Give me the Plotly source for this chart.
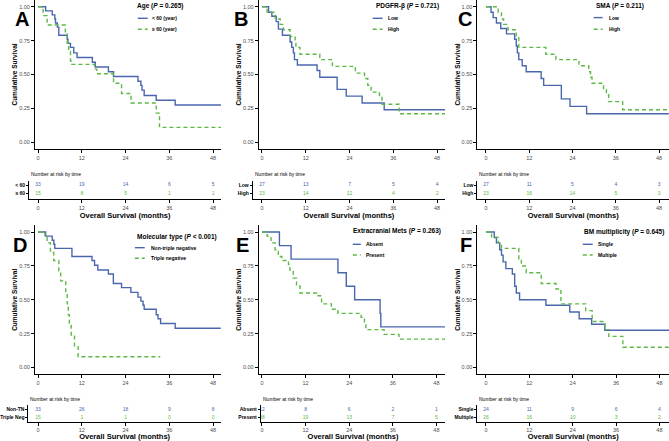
import plotly.graph_objects as go

W, H = 669, 441
FONT = "Liberation Sans, Arial, sans-serif"
BLUE = "#4a67ae"
GREEN = "#5cb945"
DASH = "4px,3px"

### data (months, cumulative survival)
risk_times = [0, 12, 24, 36, 48]
y_ticks = [0, 0.25, 0.5, 0.75, 1.0]

# A - Age
age_lt60_t = [0, 2.1, 3.9, 4.6, 4.8, 5.3, 5.7, 8.0, 8.2, 8.9, 9.8, 10.7, 14.9, 15.7, 19.3, 20.7, 27.4, 28.2, 28.5, 29.1, 32.4, 37.6, 50.2]
age_lt60_s = [1, 0.97, 0.94, 0.91, 0.88, 0.85, 0.79, 0.76, 0.73, 0.70, 0.66, 0.625, 0.59, 0.555, 0.52, 0.485, 0.45, 0.42, 0.385, 0.345, 0.31, 0.275, 0.275]
age_ge60_t = [0, 1.4, 2.5, 7.5, 8.0, 8.4, 8.9, 9.3, 15.5, 16.1, 20.7, 22.9, 25.5, 32.4, 33.3, 50.2]
age_ge60_s = [1, 0.935, 0.865, 0.80, 0.73, 0.67, 0.60, 0.575, 0.54, 0.505, 0.435, 0.36, 0.29, 0.215, 0.11, 0.11]
age_risk_lt60 = [33, 19, 14, 6, 5]
age_risk_ge60 = [15, 8, 5, 1, 1]

# B - PDGFR-beta
pdg_low_t = [0, 1.8, 2.7, 3.9, 4.5, 5.6, 7.7, 8.15, 8.6, 8.9, 9.7, 15.1, 15.85, 20.6, 23.1, 27.45, 33.5, 50.2]
pdg_low_s = [1, 0.96, 0.93, 0.89, 0.835, 0.79, 0.74, 0.70, 0.66, 0.61, 0.57, 0.53, 0.48, 0.39, 0.34, 0.29, 0.24, 0.24]
pdg_high_t = [0, 1.4, 3.6, 5.0, 5.9, 7.7, 9.1, 9.3, 10.4, 15.85, 19.3, 25.6, 28.1, 29.0, 29.9, 32.2, 32.9, 37.6, 50.2]
pdg_high_s = [1, 0.96, 0.91, 0.87, 0.83, 0.78, 0.74, 0.70, 0.65, 0.61, 0.56, 0.51, 0.47, 0.42, 0.37, 0.33, 0.28, 0.21, 0.21]
pdg_risk_low = [27, 13, 7, 5, 4]
pdg_risk_high = [23, 14, 12, 4, 2]

# C - SMA
sma_low_t = [0, 1.4, 2.0, 2.9, 4.1, 5.7, 7.95, 8.4, 8.7, 9.1, 10.05, 11.15, 15.3, 16.0, 20.9, 23.3, 27.9, 50.7]
sma_low_s = [1, 0.96, 0.92, 0.88, 0.84, 0.80, 0.76, 0.71, 0.66, 0.61, 0.565, 0.52, 0.47, 0.42, 0.32, 0.265, 0.21, 0.21]
sma_high_t = [0, 3.4, 4.3, 4.9, 6.1, 8.4, 9.1, 16.6, 19.4, 25.8, 28.5, 29.0, 29.4, 32.6, 33.4, 34.0, 37.9, 50.7]
sma_high_s = [1, 0.96, 0.91, 0.87, 0.83, 0.78, 0.70, 0.65, 0.61, 0.565, 0.52, 0.48, 0.435, 0.39, 0.35, 0.30, 0.24, 0.24]
sma_risk_low = [27, 11, 5, 4, 3]
sma_risk_high = [23, 16, 14, 5, 3]

# D - Molecular type
mol_ntn_t = [0, 2.1, 3.9, 4.35, 4.6, 9.3, 14.8, 15.5, 16.4, 19.3, 20.65, 22.9, 25.45, 27.4, 28.2, 28.8, 29.1, 32.4, 32.9, 33.6, 37.6, 50.2]
mol_ntn_s = [1, 0.97, 0.94, 0.91, 0.88, 0.82, 0.79, 0.755, 0.72, 0.69, 0.62, 0.59, 0.555, 0.52, 0.49, 0.46, 0.43, 0.39, 0.36, 0.325, 0.29, 0.29]
mol_tn_t = [0, 1.9, 2.5, 3.4, 4.3, 5.7, 6.2, 7.6, 8.0, 8.3, 8.6, 9.1, 10.0, 11.0, 33.5]
mol_tn_s = [1, 0.96, 0.92, 0.85, 0.79, 0.71, 0.64, 0.55, 0.47, 0.39, 0.31, 0.24, 0.16, 0.08, 0.08]
mol_risk_ntn = [33, 26, 18, 9, 8]
mol_risk_tn = [15, 1, 1, 0, 0]

# E - Extracranial mets
ext_abs_t = [0, 4.8, 8.0, 20.9, 23.2, 25.5, 32.5, 32.7, 50.4]
ext_abs_s = [1, 0.90, 0.80, 0.70, 0.60, 0.50, 0.40, 0.30, 0.30]
ext_pre_t = [0, 1.4, 2.5, 3.6, 4.5, 5.45, 7.3, 7.7, 8.6, 9.5, 10.45, 15.0, 16.4, 19.1, 20.9, 27.3, 28.2, 28.6, 33.6, 37.7, 50.4]
ext_pre_s = [1, 0.97, 0.92, 0.87, 0.82, 0.79, 0.76, 0.71, 0.66, 0.61, 0.55, 0.53, 0.47, 0.43, 0.40, 0.37, 0.33, 0.28, 0.245, 0.21, 0.21]
ext_risk_abs = [12, 8, 6, 2, 1]
ext_risk_pre = [38, 19, 13, 7, 5]

# F - BM multiplicity
bm_single_t = [0, 2.3, 2.9, 3.8, 4.3, 4.75, 5.5, 7.3, 7.95, 8.4, 9.3, 16.6, 23.2, 25.8, 29.25, 32.9, 50.7]
bm_single_s = [1, 0.96, 0.92, 0.87, 0.83, 0.78, 0.73, 0.69, 0.60, 0.55, 0.50, 0.46, 0.41, 0.36, 0.32, 0.275, 0.275]
bm_multi_t = [0, 1.55, 3.4, 4.3, 9.1, 9.8, 11.15, 15.3, 19.4, 20.75, 27.6, 29.4, 32.9, 34.0, 37.9, 50.7]
bm_multi_s = [1, 0.96, 0.92, 0.88, 0.80, 0.75, 0.70, 0.62, 0.58, 0.47, 0.42, 0.34, 0.28, 0.23, 0.15, 0.15]
bm_risk_single = [24, 11, 9, 6, 4]
bm_risk_multi = [26, 16, 10, 3, 2]

panels = [
    dict(letter="A", title="Age (<i>P</i> = 0.265)",
         names=["&lt; 60 (year)", "≥ 60 (year)"], rows=["&lt; 60", "≥ 60"],
         curves=[(age_lt60_t, age_lt60_s), (age_ge60_t, age_ge60_s)],
         risk=[age_risk_lt60, age_risk_ge60]),
    dict(letter="B", title="PDGFR-β (<i>P</i> = 0.721)",
         names=["Low", "High"], rows=["Low", "High"],
         curves=[(pdg_low_t, pdg_low_s), (pdg_high_t, pdg_high_s)],
         risk=[pdg_risk_low, pdg_risk_high]),
    dict(letter="C", title="SMA (<i>P</i> = 0.211)",
         names=["Low", "High"], rows=["Low", "High"],
         curves=[(sma_low_t, sma_low_s), (sma_high_t, sma_high_s)],
         risk=[sma_risk_low, sma_risk_high]),
    dict(letter="D", title="Molecular type (<i>P</i> &lt; 0.001)",
         names=["Non-triple negative", "Triple negative"], rows=["Non-TN", "Triple Neg"],
         curves=[(mol_ntn_t, mol_ntn_s), (mol_tn_t, mol_tn_s)],
         risk=[mol_risk_ntn, mol_risk_tn]),
    dict(letter="E", title="Extracranial Mets (<i>P</i> = 0.263)",
         names=["Absent", "Present"], rows=["Absent", "Present"],
         curves=[(ext_abs_t, ext_abs_s), (ext_pre_t, ext_pre_s)],
         risk=[ext_risk_abs, ext_risk_pre]),
    dict(letter="F", title="BM multiplicity (<i>P</i> = 0.645)",
         names=["Single", "Multiple"], rows=["Single", "Multiple"],
         curves=[(bm_single_t, bm_single_s), (bm_multi_t, bm_multi_s)],
         risk=[bm_risk_single, bm_risk_multi]),
]

### pixel geometry of each panel
# left/right: main plot x extent, x0/x48: pixel of month 0 and 48, rleft: risk table axis
# lt: legend title (x, y), ll: legend line x0-x1, lx: legend text x, ly: legend item ys, let: letter centre
geom = {
    "A": dict(left=29.3, right=217, x0=32.3, x48=209, rleft=23.3,
              lt=(130, 6), ll=(133, 143), lx=145.7, ly=(18.3, 29.3), let=(16, 18.5)),
    "B": dict(left=255, right=443, x0=258.3, x48=435, rleft=249,
              lt=(371.7, 6), ll=(370, 380), lx=383.3, ly=(18.3, 29.3), let=(237.5, 18.5)),
    "C": dict(left=475.7, right=669, x0=484.3, x48=659, rleft=475.7,
              lt=(593.3, 6), ll=(593, 602), lx=606.7, ly=(17.6, 29.3), let=(463, 18.5)),
    "D": dict(left=29.3, right=216.7, x0=32.3, x48=209, rleft=22.7,
              lt=(130, 236.7), ll=(130, 140), lx=144, ly=(247.7, 258.3), let=(14.5, 245)),
    "E": dict(left=255, right=443.3, x0=258.3, x48=434.3, rleft=257,
              lt=(348.3, 231), ll=(350, 358), lx=361.7, ly=(244.3, 255), let=(239, 245)),
    "F": dict(left=475.7, right=669, x0=484.3, x48=659.3, rleft=475.7,
              lt=(581, 231.7), ll=(582, 592), lx=595, ly=(244.3, 255), let=(464, 245)),
}
# rows: main plot top/bottom, risk table top/bottom, risk row 1/2 y, "number at risk" y
rowgeo = [
    dict(mt=0, mb=149, rt=180.7, rb=199.3, r1=185, r2=193.3, nar=174),
    dict(mt=225.3, mb=374.3, rt=404.5, rb=421.5, r1=409.5, r2=417.5, nar=398.5),
]


def px(x):
    return x / W


def py(y):
    return 1 - y / H


fig = go.Figure()
annotations = []
shapes = []
tick_font = dict(family=FONT, size=5.5, color="#4d4d4d")

for i, p in enumerate(panels):
    g = geom[p["letter"]]
    r = rowgeo[0 if i < 3 else 1]
    mid, rid = i + 1, i + 7
    mx, my = f"x{mid}", f"y{mid}"
    rx, ry = f"x{rid}", f"y{rid}"
    ppm = (g["x48"] - g["x0"]) / 48

    for (t, s), name, col, dash in zip(p["curves"], p["names"], [BLUE, GREEN], ["solid", DASH]):
        fig.add_trace(go.Scatter(x=t, y=s, name=name, mode="lines",
                                 line=dict(shape="hv", color=col, width=1.4, dash=dash),
                                 xaxis=mx, yaxis=my, showlegend=False))
    for k, (vals, col) in enumerate(zip(p["risk"], [BLUE, GREEN])):
        fig.add_trace(go.Scatter(x=risk_times, y=[2 - k] * len(risk_times), text=[str(v) for v in vals],
                                 mode="text", textfont=dict(family=FONT, size=5, color=col),
                                 xaxis=rx, yaxis=ry, showlegend=False, hoverinfo="skip"))

    common = dict(showline=True, linecolor="black", linewidth=1, showgrid=False, zeroline=False,
                  ticks="outside", ticklen=3, tickwidth=1, tickcolor="black", tickfont=tick_font)
    fig.layout[f"xaxis{mid}"] = dict(common, domain=[px(g["left"]), px(g["right"])], anchor=my,
                                     range=[(g["left"] - g["x0"]) / ppm, (g["right"] - g["x0"]) / ppm],
                                     tickvals=risk_times)
    fig.layout[f"yaxis{mid}"] = dict(common, domain=[py(r["mb"]), py(r["mt"])], anchor=mx,
                                     range=[-0.05, 1.05], tickvals=y_ticks,
                                     ticktext=[f"{v:.2f}" for v in y_ticks],
                                     title=dict(text="Cumulative Survival", standoff=0,
                                                font=dict(family=FONT, size=6.5, color="black", weight="bold")))
    sp = r["r2"] - r["r1"]
    fig.layout[f"xaxis{rid}"] = dict(common, domain=[px(g["rleft"]), px(g["right"])], anchor=ry,
                                     range=[(g["rleft"] - g["x0"]) / ppm, (g["right"] - g["x0"]) / ppm],
                                     tickvals=risk_times,
                                     title=dict(text="Overall Survival (months)", standoff=1,
                                                font=dict(family=FONT, size=7.5, color="black", weight="bold")))
    fig.layout[f"yaxis{rid}"] = dict(common, domain=[py(r["rb"]), py(r["rt"])], anchor=rx,
                                     range=[1 - (r["rb"] - r["r2"]) / sp, 2 + (r["r1"] - r["rt"]) / sp],
                                     tickvals=[2, 1], ticktext=p["rows"], ticklen=2,
                                     tickfont=dict(family=FONT, size=5, color="black", weight="bold"))

    # panel letter
    annotations.append(dict(text=p["letter"], x=px(g["let"][0]), y=py(g["let"][1]), xref="paper", yref="paper",
                            xanchor="center", yanchor="middle", showarrow=False,
                            font=dict(family=FONT, size=20, color="black", weight="bold")))
    # legend
    annotations.append(dict(text=p["title"], x=px(g["lt"][0]), y=py(g["lt"][1]), xref="paper", yref="paper",
                            xanchor="left", yanchor="middle", showarrow=False,
                            font=dict(family=FONT, size=6.5, color="black", weight="bold")))
    for name, yy, col, dash in zip(p["names"], g["ly"], [BLUE, GREEN], ["solid", DASH]):
        shapes.append(dict(type="line", xref="paper", yref="paper", x0=px(g["ll"][0]), x1=px(g["ll"][1]),
                           y0=py(yy), y1=py(yy), line=dict(color=col, width=1.4, dash=dash)))
        annotations.append(dict(text=name, x=px(g["lx"]), y=py(yy), xref="paper", yref="paper",
                                xanchor="left", yanchor="middle", showarrow=False,
                                font=dict(family=FONT, size=5, color="black", weight="bold")))
    annotations.append(dict(text="Number at risk by time", x=px(g["rleft"]), y=py(r["nar"]),
                            xref="paper", yref="paper", xanchor="left", yanchor="middle", showarrow=False,
                            font=dict(family=FONT, size=5, color="black")))

fig.update_layout(
    width=W, height=H,
    margin=dict(l=0, r=0, t=0, b=0),
    paper_bgcolor="white", plot_bgcolor="white",
    font=dict(family=FONT),
    showlegend=False,
    annotations=annotations,
    shapes=shapes,
)
# page body has a default 8px margin; drop it so the figure fills the window
fig.write_html("out.html", config={"displayModeBar": False},
               post_script="document.body.style.margin='0px';")
